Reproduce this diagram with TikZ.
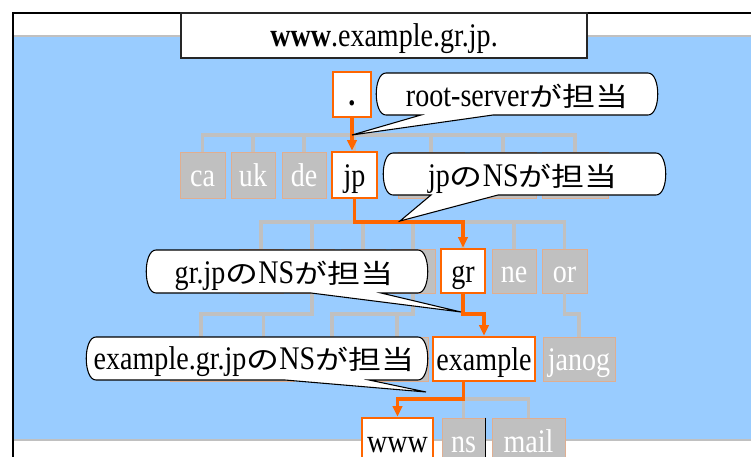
\documentclass[tikz,border=0pt]{standalone}
\usepackage{fontspec}
\setmainfont{Liberation Serif}[FakeStretch=0.85]
\newfontfamily\jf{Noto Sans CJK JP}[FakeStretch=1.25,Scale=0.8]
\usetikzlibrary{arrows.meta}

\definecolor{sky}{HTML}{99CCFF}
\definecolor{tone}{HTML}{C0C0C0}
\definecolor{hot}{HTML}{FF6600}
\definecolor{rim}{HTML}{E0AE90}

% speech balloon: x1 y1 x2 y2, pointer base left/right on the bottom edge, tip
\newcommand\callbox[7]{%
  \draw[balloon] ({#1+10},#2) -- ({#3-10},#2)
    .. controls ({#3+3},#2) and ({#3+3},#4) .. ({#3-10},#4)
    -- (#6,#4) -- #7 -- (#5,#4) -- ({#1+10},#4)
    .. controls ({#1-3},#4) and ({#1-3},#2) .. ({#1+10},#2) -- cycle;}

\begin{document}
\begin{tikzpicture}[x=0.75pt,y=-0.75pt,
  every node/.style={inner sep=0pt,font=\fontsize{24.75}{30}\selectfont},
  lbl/.style={text height=20pt,text depth=3.5pt},
  sz/.style 2 args={minimum width=#1*0.75pt,minimum height=#2*0.75pt},
  dim/.style={lbl,rectangle,fill=tone,draw=rim,line width=0.45pt,text=white},
  hit/.style={lbl,rectangle,fill=white,draw=hot,line width=1.8pt},
  tree/.style={draw=tone,line width=2.4pt},
  route/.style={draw=hot,line width=2.6pt},
  tip/.style={-{Triangle[length=8pt,width=7pt]}},
  balloon/.style={draw=black,fill=white,line width=0.8pt}]

\useasboundingbox (0,0) rectangle (751,457);
\clip (0,0) rectangle (751,457);

% frame and background
\fill[white] (0,0) rectangle (751,457);
\fill[sky] (13,36) rectangle (751,440);
\draw[tone,line width=1.5pt] (13,36) -- (751,36);
\draw[tone,line width=1.5pt] (13,440) -- (751,440);
\draw[black,line width=2pt] (13,460) -- (13,13) -- (751,13);

% bar levels
\coordinate (b0) at (0,135);
\coordinate (b1) at (0,222);
\coordinate (b2) at (0,314);
\coordinate (b3) at (0,399);

% root
\node[hit,sz={38}{45}] (root) at (352,94.5) {\textbf{.}};

% first level
\node[dim,sz={45}{46}] (ca) at (202.5,175) {ca};
\node[dim,sz={44}{46}] (uk) at (253,175) {uk};
\node[dim,sz={44}{46}] (de) at (304,175) {de};
\node[hit,sz={45}{46}] (jp) at (354.5,175) {jp};
\node[dim,sz={66}{46}] (h1) at (431,175) {};
\node[dim,sz={66}{46}] (h2) at (503,175) {};
\node[dim,sz={66}{46}] (h3) at (575,175) {};

% second level
\node[dim,sz={44}{44}] (m1) at (261,271) {};
\node[dim,sz={44}{44}] (m2) at (312,271) {};
\node[dim,sz={44}{44}] (m3) at (363,271) {};
\node[dim,sz={44}{44}] (m4) at (413,271) {};
\node[hit,sz={44}{44}] (gr) at (463,271) {gr};
\node[dim,sz={44}{44}] (ne) at (514,271) {ne};
\node[dim,sz={45}{44}] (or) at (564.5,271) {or};

% third level
\node[dim,sz={62}{44}] (n1) at (201,359) {};
\node[dim,sz={61}{44}] (n2) at (263.5,359) {};
\node[dim,sz={62}{44}] (n3) at (332,359) {};
\node[dim,sz={62}{44}] (n4) at (397,359) {};
\node[hit,sz={102}{44}] (example) at (484,359) {example};
\node[dim,sz={72}{44}] (janog) at (579,359) {janog};

% fourth level
\node[hit,sz={71}{46}] (www) at (397.5,441) {www};
\node[dim,sz={43}{46}] (ns) at (463.5,441) {ns};
\node[dim,sz={73}{46}] (mail) at (528.5,441) {mail};
\draw[black,line width=0.6pt] (ns.north east) -- (ns.south east);

% grey branches
\draw[tree] (ca.north) -- (ca.north |- b0) -- (h3.north |- b0) -- (h3.north);
\foreach \n in {uk,de,jp,h1,h2} \draw[tree] (\n.north) -- (\n.north |- b0);
\draw[tree] (m1.north) -- (m1.north |- b1) -- (or.north |- b1) -- (or.north);
\foreach \n in {m2,m3,m4,gr,ne} \draw[tree] (\n.north) -- (\n.north |- b1);
\draw[tree] (m2.south) -- (m2.south |- b2) -- (n1.north |- b2) -- (n1.north);
\draw[tree] (n2.north) -- (n2.north |- b2);
\draw[tree] (m4.south) -- (m4.south |- b2) -- (n3.north |- b2) -- (n3.north);
\draw[tree] (n4.north) -- (n4.north |- b2);
\draw[tree] (or.south) -- (or.south |- b2) -- (janog.north |- b2) -- (janog.north);
\draw[tree] (ns.north) -- (ns.north |- b3) -- (mail.north |- b3) -- (mail.north);

% resolution path
\draw[route,tip] (root.south) -- (root.south |- jp.north);
\draw[route,tip] (jp.south) -- (jp.south |- b1) -- (gr.north |- b1) -- (gr.north);
\draw[route,tip] (gr.south) -- (gr.south |- b2) -- (example.north |- b2) -- (example.north);
\draw[route,tip] (ns.north |- example.south) -- (ns.north |- b3) -- (www.north |- b3) -- (www.north);

% balloons
\coordinate (p0) at (352,135);
\coordinate (p1) at (400,221);
\coordinate (p2) at (461,312);
\coordinate (p3) at (426,392);
\callbox{376}{73}{658}{115}{421}{493}{(p0)}
\callbox{383}{153}{666}{195}{431}{498}{(p1)}
\callbox{146}{250}{428}{293}{311}{381}{(p2)}
\callbox{86}{337}{428}{380}{285}{369}{(p3)}
\node[lbl] (t0) at (517,95) {root-server{\jf が担当}};
\node[lbl] (t1) at (523,175) {jp{\jf の}NS{\jf が担当}};
\node[lbl] (t2) at (284,272) {gr.jp{\jf の}NS{\jf が担当}};
\node[lbl] (t3) at (254,358) {example.gr.jp{\jf の}NS{\jf が担当}};

% title
\node[lbl,draw=black!85,fill=white,line width=0.9pt,sz={406}{45}] (title) at (384,35.5) {\textbf{www}.example.gr.jp.};
\end{tikzpicture}
\end{document}
